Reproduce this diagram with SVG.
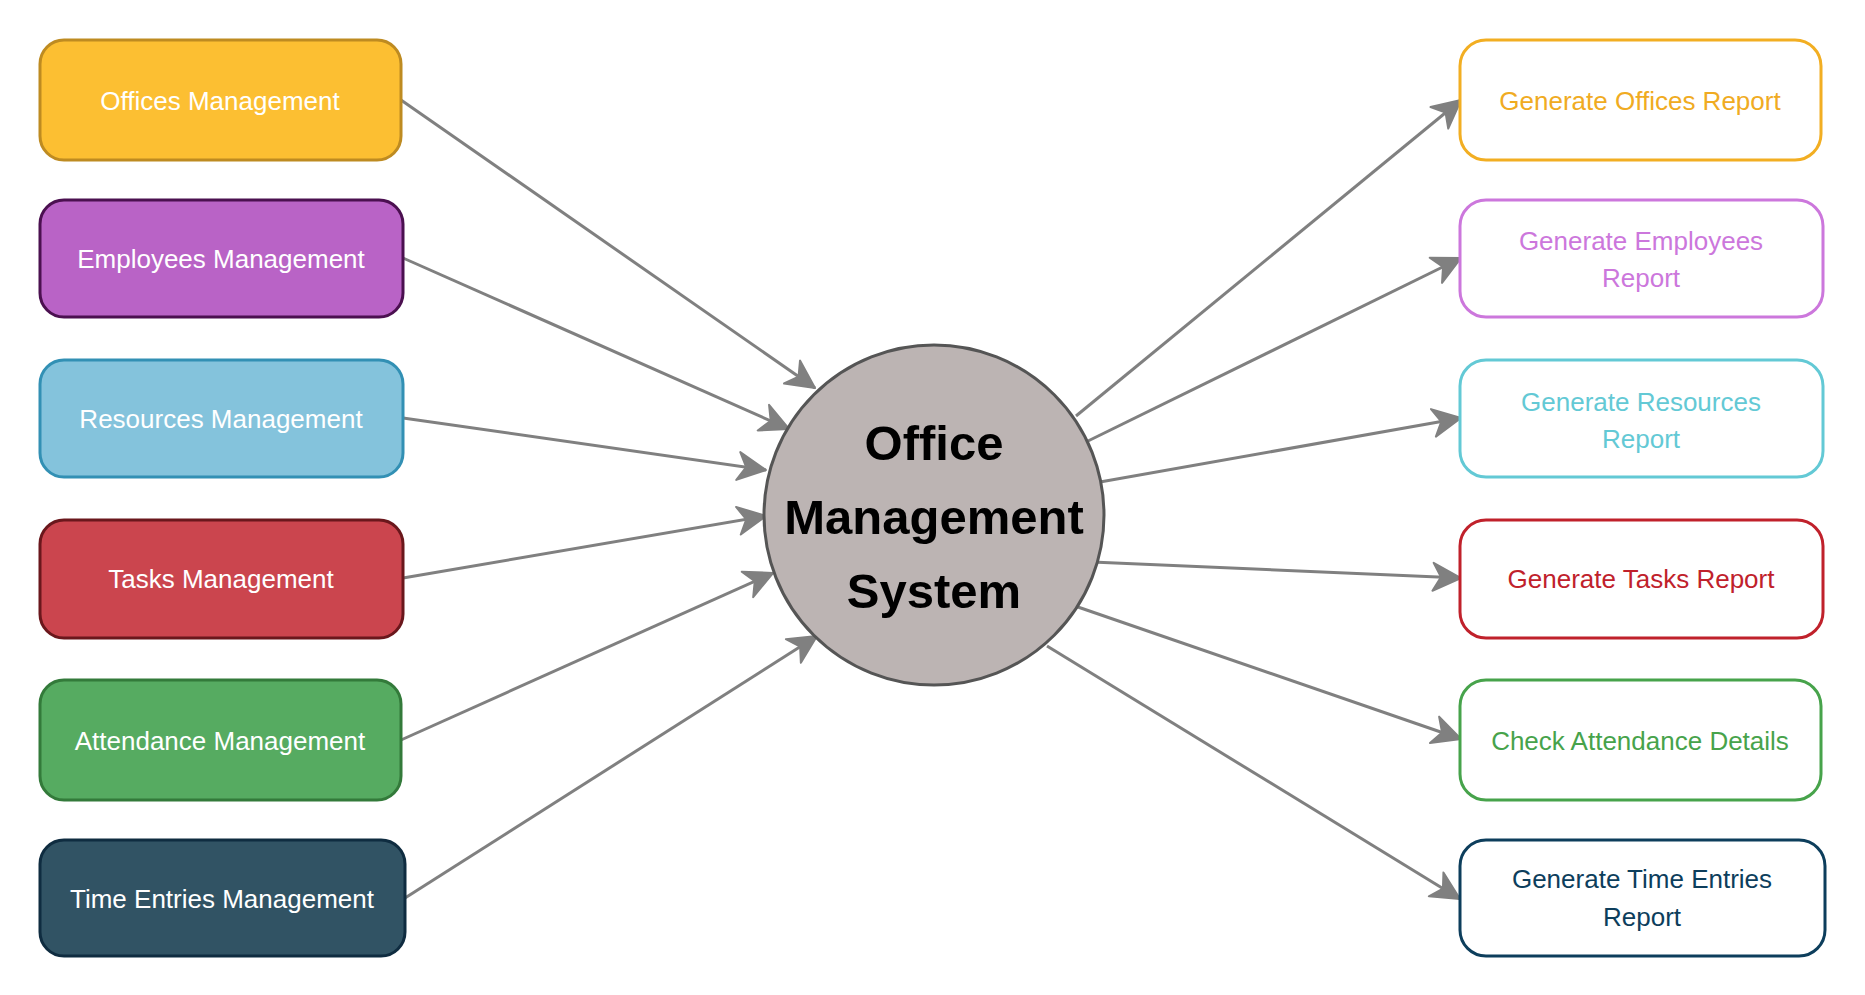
<svg xmlns="http://www.w3.org/2000/svg" width="1865" height="995" viewBox="0 0 1865 995">
<style>
.lbl{font-family:"Liberation Sans",Arial,sans-serif;font-size:26px;text-anchor:middle}
.w{fill:#ffffff}
.box{stroke-width:3}
.conn{stroke:#808080;stroke-width:3;fill:none;marker-end:url(#arr)}
.ctr{font-family:"Liberation Sans",Arial,sans-serif;font-size:49px;font-weight:bold;text-anchor:middle;fill:#000000}
</style>
<defs>
<marker id="arr" markerUnits="userSpaceOnUse" viewBox="-32 -17 34 34" refX="0" refY="0" markerWidth="34" markerHeight="34" orient="auto">
<path d="M0,0 L-28,-14 L-20,0 L-28,14 Z" fill="#808080" stroke="#808080" stroke-width="2" stroke-linejoin="round"/>
</marker>
</defs>
<rect width="1865" height="995" fill="#ffffff"/>
<g id="connectors">
<line class="conn" x1="401" y1="100" x2="815" y2="388"/>
<line class="conn" x1="403" y1="258" x2="789" y2="429"/>
<line class="conn" x1="403" y1="418" x2="766" y2="470"/>
<line class="conn" x1="403" y1="578" x2="766" y2="516"/>
<line class="conn" x1="401" y1="740" x2="773" y2="573"/>
<line class="conn" x1="405" y1="898" x2="817" y2="636"/>
<line class="conn" x1="1076" y1="416" x2="1461" y2="100"/>
<line class="conn" x1="1088" y1="441" x2="1461" y2="258"/>
<line class="conn" x1="1100" y1="482" x2="1461" y2="418"/>
<line class="conn" x1="1092" y1="562" x2="1461" y2="578"/>
<line class="conn" x1="1075" y1="606" x2="1461" y2="739"/>
<line class="conn" x1="1047" y1="646" x2="1460" y2="899"/>
</g>
<g id="offices-management">
<rect class="box" x="40" y="40" width="361" height="120" rx="24" fill="#fcbf32" stroke="#be8b21"/>
<text class="lbl w" x="220" y="110">Offices Management</text>
</g>
<g id="employees-management">
<rect class="box" x="40" y="200" width="363" height="117" rx="24" fill="#b963c6" stroke="#4b1050"/>
<text class="lbl w" x="221" y="268">Employees Management</text>
</g>
<g id="resources-management">
<rect class="box" x="40" y="360" width="363" height="117" rx="24" fill="#84c3dc" stroke="#3290b4"/>
<text class="lbl w" x="221" y="428">Resources Management</text>
</g>
<g id="tasks-management">
<rect class="box" x="40" y="520" width="363" height="118" rx="24" fill="#cb454e" stroke="#6a171c"/>
<text class="lbl w" x="221" y="588">Tasks Management</text>
</g>
<g id="attendance-management">
<rect class="box" x="40" y="680" width="361" height="120" rx="24" fill="#56ab61" stroke="#337a3a"/>
<text class="lbl w" x="220" y="750">Attendance Management</text>
</g>
<g id="time-entries-management">
<rect class="box" x="40" y="840" width="365" height="116" rx="24" fill="#315364" stroke="#0f2c40"/>
<text class="lbl w" x="222" y="908">Time Entries Management</text>
</g>
<g id="office-management-system">
<circle cx="934" cy="515" r="170" fill="#bcb4b3" stroke="#555555" stroke-width="3"/>
<text class="ctr" x="934" y="460">Office</text>
<text class="ctr" x="934" y="534">Management</text>
<text class="ctr" x="934" y="608">System</text>
</g>
<g id="generate-offices-report">
<rect class="box" x="1460" y="40" width="361" height="120" rx="26" fill="#ffffff" stroke="#f2ae22"/>
<text class="lbl" x="1640" y="110" fill="#f0ab22">Generate Offices Report</text>
</g>
<g id="generate-employees-report">
<rect class="box" x="1460" y="200" width="363" height="117" rx="26" fill="#ffffff" stroke="#cc77dc"/>
<text class="lbl" x="1641" y="250" fill="#cc77dc">Generate Employees</text>
<text class="lbl" x="1641" y="287" fill="#cc77dc">Report</text>
</g>
<g id="generate-resources-report">
<rect class="box" x="1460" y="360" width="363" height="117" rx="26" fill="#ffffff" stroke="#63c9d5"/>
<text class="lbl" x="1641" y="411" fill="#63c9d5">Generate Resources</text>
<text class="lbl" x="1641" y="448" fill="#63c9d5">Report</text>
</g>
<g id="generate-tasks-report">
<rect class="box" x="1460" y="520" width="363" height="118" rx="26" fill="#ffffff" stroke="#c0212b"/>
<text class="lbl" x="1641" y="588" fill="#c0212b">Generate Tasks Report</text>
</g>
<g id="check-attendance-details">
<rect class="box" x="1460" y="680" width="361" height="120" rx="26" fill="#ffffff" stroke="#47a34b"/>
<text class="lbl" x="1640" y="750" fill="#47a34b">Check Attendance Details</text>
</g>
<g id="generate-time-entries-report">
<rect class="box" x="1460" y="840" width="365" height="116" rx="26" fill="#ffffff" stroke="#0d3e5c"/>
<text class="lbl" x="1642" y="888" fill="#0d3e5c">Generate Time Entries</text>
<text class="lbl" x="1642" y="926" fill="#0d3e5c">Report</text>
</g>
</svg>
